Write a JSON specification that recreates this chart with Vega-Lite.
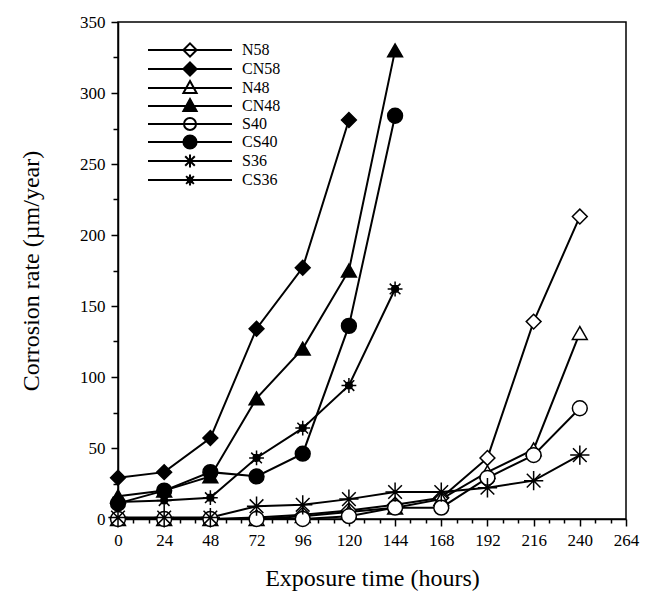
{
  "$schema": "https://vega.github.io/schema/vega-lite/v6.json",
  "width": 508,
  "height": 497,
  "padding": {"left": 118, "top": 22, "right": 30, "bottom": 82},
  "autosize": {"type": "none"},
  "background": "white",
  "config": {
    "font": "Liberation Serif",
    "view": {"stroke": "black", "strokeWidth": 1.5},
    "axis": {
      "grid": false,
      "domainColor": "black",
      "domainWidth": 1.5,
      "tickColor": "black",
      "tickWidth": 1.5,
      "labelColor": "black",
      "titleColor": "black",
      "labelFont": "Liberation Serif",
      "titleFont": "Liberation Serif",
      "labelFontSize": 17,
      "titleFontSize": 24,
      "titleFontWeight": "normal"
    },
    "legend": {
      "labelFont": "Liberation Serif",
      "labelFontSize": 16,
      "labelColor": "black"
    }
  },
  "data": {
    "values": [
      {"series": "N58", "time": 0, "rate": 0},
      {"series": "N58", "time": 24, "rate": 0},
      {"series": "N58", "time": 48, "rate": 0},
      {"series": "N58", "time": 72, "rate": 1},
      {"series": "N58", "time": 96, "rate": 3},
      {"series": "N58", "time": 120, "rate": 6},
      {"series": "N58", "time": 144, "rate": 10},
      {"series": "N58", "time": 168, "rate": 15},
      {"series": "N58", "time": 192, "rate": 43},
      {"series": "N58", "time": 216, "rate": 139},
      {"series": "N58", "time": 240, "rate": 213},
      {"series": "CN58", "time": 0, "rate": 29},
      {"series": "CN58", "time": 24, "rate": 33},
      {"series": "CN58", "time": 48, "rate": 57},
      {"series": "CN58", "time": 72, "rate": 134},
      {"series": "CN58", "time": 96, "rate": 177},
      {"series": "CN58", "time": 120, "rate": 281},
      {"series": "N48", "time": 0, "rate": 0},
      {"series": "N48", "time": 24, "rate": 0},
      {"series": "N48", "time": 48, "rate": 0},
      {"series": "N48", "time": 72, "rate": 0},
      {"series": "N48", "time": 96, "rate": 2},
      {"series": "N48", "time": 120, "rate": 5},
      {"series": "N48", "time": 144, "rate": 8},
      {"series": "N48", "time": 168, "rate": 14},
      {"series": "N48", "time": 192, "rate": 33},
      {"series": "N48", "time": 216, "rate": 49},
      {"series": "N48", "time": 240, "rate": 131},
      {"series": "CN48", "time": 0, "rate": 16},
      {"series": "CN48", "time": 24, "rate": 20},
      {"series": "CN48", "time": 48, "rate": 30},
      {"series": "CN48", "time": 72, "rate": 85},
      {"series": "CN48", "time": 96, "rate": 120},
      {"series": "CN48", "time": 120, "rate": 175},
      {"series": "CN48", "time": 144, "rate": 330},
      {"series": "S40", "time": 0, "rate": 0},
      {"series": "S40", "time": 24, "rate": 0},
      {"series": "S40", "time": 48, "rate": 0},
      {"series": "S40", "time": 72, "rate": 0},
      {"series": "S40", "time": 96, "rate": 0},
      {"series": "S40", "time": 120, "rate": 2},
      {"series": "S40", "time": 144, "rate": 8},
      {"series": "S40", "time": 168, "rate": 8},
      {"series": "S40", "time": 192, "rate": 29},
      {"series": "S40", "time": 216, "rate": 45},
      {"series": "S40", "time": 240, "rate": 78},
      {"series": "CS40", "time": 0, "rate": 11},
      {"series": "CS40", "time": 24, "rate": 20},
      {"series": "CS40", "time": 48, "rate": 33},
      {"series": "CS40", "time": 72, "rate": 30},
      {"series": "CS40", "time": 96, "rate": 46},
      {"series": "CS40", "time": 120, "rate": 136},
      {"series": "CS40", "time": 144, "rate": 284},
      {"series": "S36", "time": 0, "rate": 1},
      {"series": "S36", "time": 24, "rate": 1},
      {"series": "S36", "time": 48, "rate": 1},
      {"series": "S36", "time": 72, "rate": 9},
      {"series": "S36", "time": 96, "rate": 10},
      {"series": "S36", "time": 120, "rate": 14},
      {"series": "S36", "time": 144, "rate": 19},
      {"series": "S36", "time": 168, "rate": 19},
      {"series": "S36", "time": 192, "rate": 22},
      {"series": "S36", "time": 216, "rate": 27},
      {"series": "S36", "time": 240, "rate": 45},
      {"series": "CS36", "time": 0, "rate": 12},
      {"series": "CS36", "time": 24, "rate": 13},
      {"series": "CS36", "time": 48, "rate": 15},
      {"series": "CS36", "time": 72, "rate": 43},
      {"series": "CS36", "time": 96, "rate": 64},
      {"series": "CS36", "time": 120, "rate": 94},
      {"series": "CS36", "time": 144, "rate": 162}
    ]
  },
  "layer": [
    {
      "mark": {"type": "line", "color": "black", "strokeWidth": 2},
      "encoding": {
        "x": {
          "field": "time", "type": "quantitative",
          "scale": {"domain": [0, 264], "nice": false, "zero": false},
          "axis": {
            "values": [0, 24, 48, 72, 96, 120, 144, 168, 192, 216, 240, 264],
            "title": "Exposure time (hours)",
            "tickSize": 7, "labelPadding": 6, "titlePadding": 18,
            "labelFlush": false
          }
        },
        "y": {
          "field": "rate", "type": "quantitative",
          "scale": {"domain": [0, 350], "nice": false},
          "axis": {
            "values": [0, 50, 100, 150, 200, 250, 300, 350],
            "title": "Corrosion rate (µm/year)",
            "tickSize": 7, "labelPadding": 6, "titlePadding": 36,
            "labelFlush": false
          }
        },
        "detail": {"field": "series"}
      }
    },
    {
      "mark": {"type": "point", "stroke": "black", "strokeWidth": 1.5, "size": 220, "opacity": 1, "filled": false},
      "encoding": {
        "x": {"field": "time", "type": "quantitative", "axis": null},
        "y": {"field": "rate", "type": "quantitative", "axis": null},
        "shape": {
          "field": "series", "type": "nominal", "legend": null,
          "scale": {
            "domain": ["N58", "CN58", "N48", "CN48", "S40", "CS40", "S36", "CS36"],
            "range": [
              "diamond", "diamond", "triangle-up", "triangle-up", "circle", "circle",
              "M-1.3,0H1.3M0,-1.3V1.3M-0.92,-0.92L0.92,0.92M-0.92,0.92L0.92,-0.92",
              "M-1,0H1M0,-1V1M-0.72,-0.72L0.72,0.72M-0.72,0.72L0.72,-0.72M-0.45,0A0.45,0.45 0 1,0 0.45,0A0.45,0.45 0 1,0 -0.45,0Z"
            ]
          }
        },
        "fill": {
          "field": "series", "type": "nominal", "legend": null,
          "scale": {
            "domain": ["N58", "CN58", "N48", "CN48", "S40", "CS40", "S36", "CS36"],
            "range": ["white", "black", "white", "black", "white", "black", "white", "black"]
          }
        }
      }
    },
    {
      "mark": {"type": "point", "strokeWidth": 2, "opacity": 0, "filled": false},
      "encoding": {
        "x": {
          "field": "time", "type": "quantitative",
          "axis": {
            "orient": "bottom",
            "values": [8, 16, 32, 40, 56, 64, 80, 88, 104, 112, 128, 136, 152, 160, 176, 184, 200, 208, 224, 232, 248, 256],
            "labels": false, "title": null, "domain": false, "tickSize": 4
          }
        },
        "y": {
          "field": "rate", "type": "quantitative",
          "axis": {
            "orient": "left",
            "values": [25, 75, 125, 175, 225, 275, 325],
            "labels": false, "title": null, "domain": false, "tickSize": 5
          }
        },
        "shape": {
          "field": "series", "type": "nominal", "title": null,
          "scale": {
            "domain": ["N58", "CN58", "N48", "CN48", "S40", "CS40", "S36", "CS36"],
            "range": [
              "M-7,0H7M0,-1.1L1.1,0L0,1.1L-1.1,0Z",
              "M-7,0H7M0,-1.1L1.1,0L0,1.1L-1.1,0Z",
              "M-7,0H7M0,-1.15L1.1,0.85L-1.1,0.85Z",
              "M-7,0H7M0,-1.15L1.1,0.85L-1.1,0.85Z",
              "M-7,0H7M-1,0A1,1 0 1,0 1,0A1,1 0 1,0 -1,0Z",
              "M-7,0H7M-1.1,0A1.1,1.1 0 1,0 1.1,0A1.1,1.1 0 1,0 -1.1,0Z",
              "M-7,0H7M0,-1.1V1.1M-0.8,-0.8L0.8,0.8M-0.8,0.8L0.8,-0.8",
              "M-7,0H7M0,-0.9V0.9M-0.65,-0.65L0.65,0.65M-0.65,0.65L0.65,-0.65M-0.4,0A0.4,0.4 0 1,0 0.4,0A0.4,0.4 0 1,0 -0.4,0Z"
            ]
          },
          "legend": {
            "orient": "none", "legendX": 64, "legendY": 20,
            "symbolSize": 144, "symbolStrokeWidth": 2,
            "symbolOpacity": 1, "labelOffset": 44, "rowPadding": -3, "padding": 0
          }
        },
        "fill": {
          "field": "series", "type": "nominal", "title": null,
          "scale": {
            "domain": ["N58", "CN58", "N48", "CN48", "S40", "CS40", "S36", "CS36"],
            "range": ["white", "black", "white", "black", "white", "black", "white", "black"]
          },
          "legend": {
            "orient": "none", "legendX": 64, "legendY": 20,
            "symbolSize": 144, "symbolStrokeWidth": 2,
            "symbolOpacity": 1, "labelOffset": 44, "rowPadding": -3, "padding": 0
          }
        },
        "stroke": {
          "field": "series", "type": "nominal", "title": null,
          "scale": {
            "domain": ["N58", "CN58", "N48", "CN48", "S40", "CS40", "S36", "CS36"],
            "range": ["black", "black", "black", "black", "black", "black", "black", "black"]
          },
          "legend": {
            "orient": "none", "legendX": 64, "legendY": 20,
            "symbolSize": 144, "symbolStrokeWidth": 2,
            "symbolOpacity": 1, "labelOffset": 44, "rowPadding": -3, "padding": 0
          }
        }
      }
    }
  ],
  "resolve": {
    "scale": {"shape": "independent", "fill": "independent", "stroke": "independent"},
    "axis": {"x": "independent", "y": "independent"}
  }
}
